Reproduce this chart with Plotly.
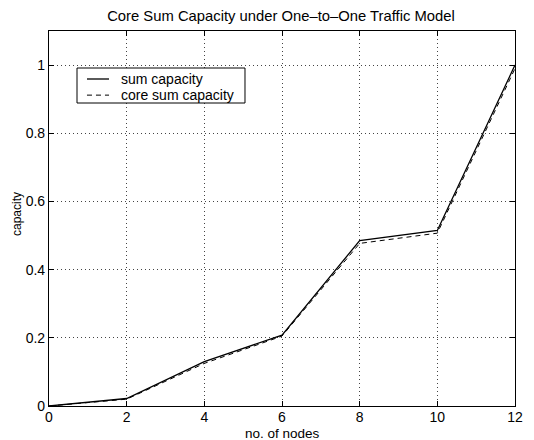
import plotly.graph_objects as go

nodes = [0, 1, 2, 4, 6, 8, 10, 12]
sum_capacity = [0.0, 0.012, 0.022, 0.13, 0.208, 0.485, 0.515, 1.0]
core_sum_capacity = [0.0, 0.010, 0.020, 0.125, 0.205, 0.477, 0.507, 0.99]
x_ticks = [0, 2, 4, 6, 8, 10, 12]
y_ticks = [0, 0.2, 0.4, 0.6, 0.8, 1]
y_tick_labels = ["0", "0.2", "0.4", "0.6", "0.8", "1"]
series_names = ["sum capacity", "core sum capacity"]

FONT = "Liberation Sans, Arial, Helvetica"
SOLID = dict(color="black", width=1.3, dash="solid")
DASHED = dict(color="black", width=1.0, dash="5px,4px")

fig = go.Figure()
fig.add_trace(go.Scatter(x=nodes, y=sum_capacity, mode="lines", name=series_names[0],
                         line=SOLID, showlegend=False))
fig.add_trace(go.Scatter(x=nodes, y=core_sum_capacity, mode="lines", name=series_names[1],
                         line=DASHED, showlegend=False))

axis_common = dict(showline=True, linecolor="black", linewidth=1.2, mirror="ticks",
                   ticks="inside", ticklen=5, tickcolor="black",
                   showgrid=True, gridcolor="#444", griddash="1px,3px", gridwidth=1,
                   zeroline=False, tickfont=dict(family=FONT, size=14, color="black"))

# legend box drawn in paper coordinates
shapes = [
    dict(type="rect", xref="paper", yref="paper", x0=0.0601, x1=0.4206, y0=0.808, y1=0.9013,
         line=dict(color="black", width=1), fillcolor="white", layer="above"),
    dict(type="line", xref="paper", yref="paper", x0=0.0815, x1=0.1288, y0=0.872, y1=0.872,
         line=SOLID, layer="above"),
    dict(type="line", xref="paper", yref="paper", x0=0.0815, x1=0.1288, y0=0.829, y1=0.829,
         line=DASHED, layer="above"),
]

annotations = [
    dict(text=series_names[0], xref="paper", yref="paper", x=0.150, y=0.872,
         xanchor="left", yanchor="middle", showarrow=False,
         font=dict(family=FONT, size=14, color="black")),
    dict(text=series_names[1], xref="paper", yref="paper", x=0.150, y=0.829,
         xanchor="left", yanchor="middle", showarrow=False,
         font=dict(family=FONT, size=14, color="black")),
    dict(text="no. of nodes", xref="paper", yref="paper",
         x=0.5, y=-0.074, xanchor="center", yanchor="middle",
         showarrow=False, font=dict(family=FONT, size=13.5, color="black")),
    dict(text="capacity", xref="paper", yref="paper", x=-0.0687, y=0.512,
         xanchor="center", yanchor="middle", textangle=-90, showarrow=False,
         font=dict(family=FONT, size=12, color="black")),
]

fig.update_layout(
    width=526, height=432,
    margin=dict(l=41, r=19, t=23, b=34),
    paper_bgcolor="white", plot_bgcolor="white",
    title=dict(text="Core Sum Capacity under One\u2013to\u2013One Traffic Model",
               xref="container", yref="container",
               x=0.519, xanchor="center", y=1 - 8 / 432, yanchor="middle",
               font=dict(family=FONT, size=14.8, color="black")),
    font=dict(family=FONT, color="black"),
    xaxis=dict(range=[0, 12], tickvals=x_ticks, ticklabelstandoff=-2, **axis_common),
    yaxis=dict(range=[0, 1.1], tickvals=y_ticks, ticktext=y_tick_labels, **axis_common),
    showlegend=False,
    shapes=shapes,
    annotations=annotations,
)

fig.write_html("out.html")
